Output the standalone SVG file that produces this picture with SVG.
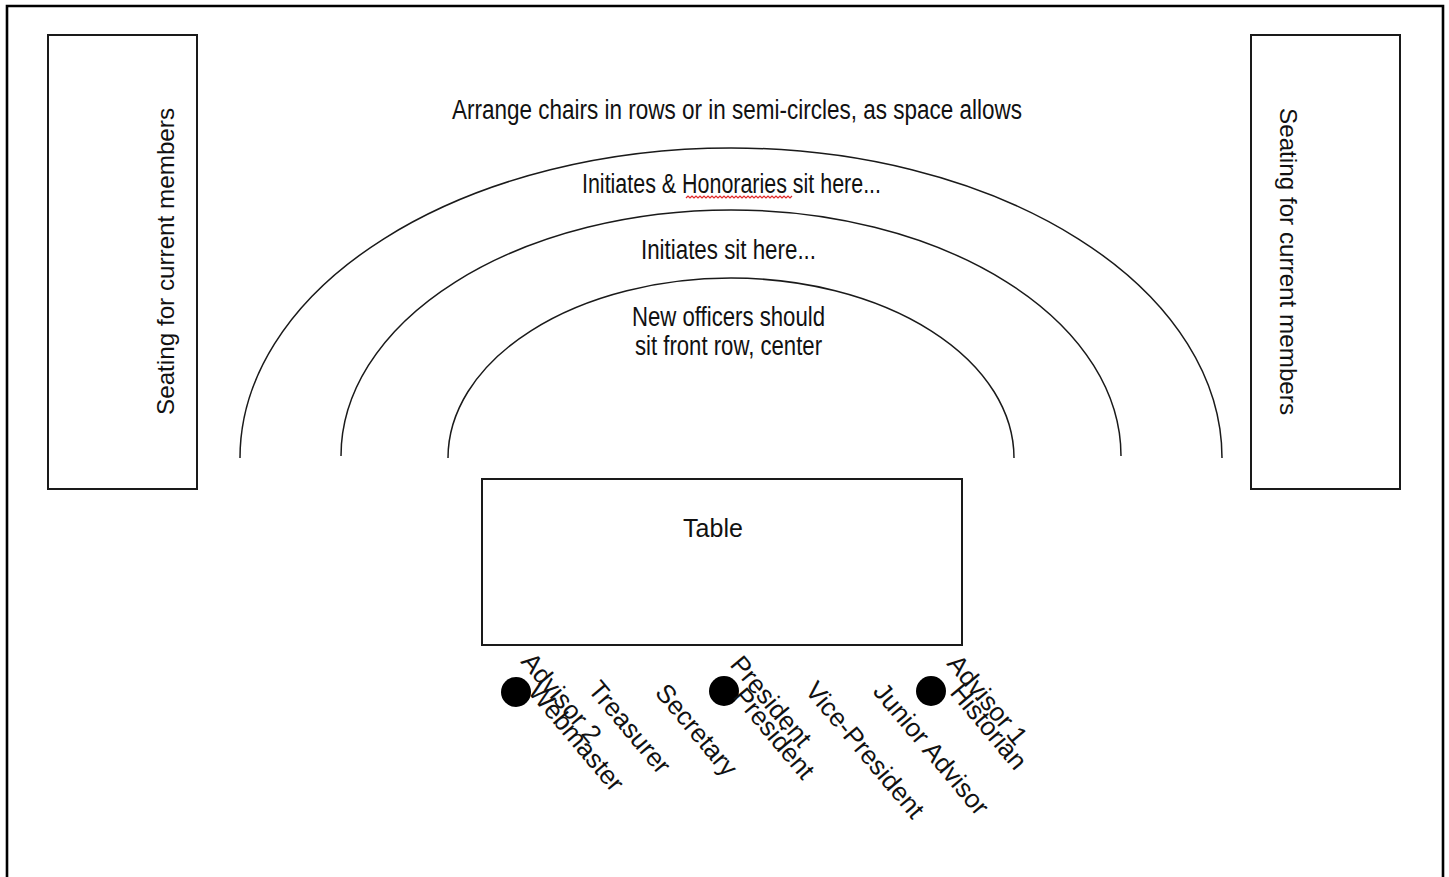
<svg xmlns="http://www.w3.org/2000/svg" width="1449" height="877" viewBox="0 0 1449 877">
  <style>
    .box { fill: #ffffff; stroke: #1a1a1a; stroke-width: 2; }
    .arc { fill: none; stroke: #1a1a1a; stroke-width: 1.5; }
    .narrow { font-family: "Liberation Sans Narrow", "Liberation Sans", Arial, sans-serif; font-size: 27px; fill: #111; }
    .reg { font-family: "Liberation Sans", Arial, sans-serif; fill: #111; }
    .lbl { font-family: "Liberation Sans", Arial, sans-serif; font-size: 26px; fill: #111; }
    .chair { fill: #000; }
  </style>
  <rect width="1449" height="877" fill="#ffffff"/>
  <path d="M7 877 V6 H1443 V877" fill="none" stroke="#000" stroke-width="2.6"/>

  <g id="seating-left">
    <rect class="box" x="48" y="35" width="149" height="454"/>
    <text class="reg" font-size="24" text-anchor="middle" transform="translate(174,261.5) rotate(-90)" textLength="307" lengthAdjust="spacingAndGlyphs">Seating for current members</text>
  </g>
  <g id="seating-right">
    <rect class="box" x="1251" y="35" width="149" height="454"/>
    <text class="reg" font-size="24" text-anchor="middle" transform="translate(1280,261.5) rotate(90)" textLength="307" lengthAdjust="spacingAndGlyphs">Seating for current members</text>
  </g>

  <g id="rows">
    <text class="narrow" x="452" y="119" font-size="28" textLength="570" lengthAdjust="spacingAndGlyphs">Arrange chairs in rows or in semi-circles, as space allows</text>
    <path class="arc" d="M240 458 A491 310 0 0 1 1222 458"/>
    <text class="narrow" x="582" y="193" textLength="299" lengthAdjust="spacingAndGlyphs">Initiates &amp; Honoraries sit here...</text>
    <path d="M686 198 l2 -2 l2 2 l2 -2 l2 2 l2 -2 l2 2 l2 -2 l2 2 l2 -2 l2 2 l2 -2 l2 2 l2 -2 l2 2 l2 -2 l2 2 l2 -2 l2 2 l2 -2 l2 2 l2 -2 l2 2 l2 -2 l2 2 l2 -2 l2 2 l2 -2 l2 2 l2 -2 l2 2 l2 -2 l2 2 l2 -2 l2 2 l2 -2 l2 2 l2 -2 l2 2 l2 -2 l2 2 l2 -2 l2 2 l2 -2 l2 2 l2 -2 l2 2 l2 -2 l2 2 l2 -2 l2 2 l2 -2 l2 2 l2 -2" fill="none" stroke="#e02828" stroke-width="1.2"/>
    <path class="arc" d="M341 456 A390 246 0 0 1 1121 456"/>
    <text class="narrow" x="641" y="259" textLength="175" lengthAdjust="spacingAndGlyphs">Initiates sit here...</text>
    <path class="arc" d="M448 458 A283 180 0 0 1 1014 458"/>
    <text class="narrow" x="632" y="326" textLength="193" lengthAdjust="spacingAndGlyphs">New officers should</text>
    <text class="narrow" x="635" y="355" textLength="187" lengthAdjust="spacingAndGlyphs">sit front row, center</text>
  </g>

  <g id="table">
    <rect class="box" x="482" y="479" width="480" height="166"/>
    <text class="reg" font-size="25" x="713" y="537" text-anchor="middle">Table</text>
  </g>

  <g id="chairs">
    <circle class="chair" cx="516" cy="692" r="15"/>
    <circle class="chair" cx="724" cy="691" r="15"/>
    <circle class="chair" cx="931" cy="691" r="15"/>
  </g>

  <g id="officer-labels">
    <text class="lbl" transform="translate(520,662) rotate(50)">Advisor 2</text>
    <text class="lbl" transform="translate(527,692) rotate(50)">Webmaster</text>
    <text class="lbl" transform="translate(587,690) rotate(50)">Treasurer</text>
    <text class="lbl" transform="translate(654,693) rotate(50)">Secretary</text>
    <text class="lbl" transform="translate(729,665) rotate(50)">President</text>
    <text class="lbl" transform="translate(732,697) rotate(50)">President</text>
    <text class="lbl" transform="translate(804,691) rotate(50)">Vice-President</text>
    <text class="lbl" transform="translate(872,692) rotate(50)">Junior Advisor</text>
    <text class="lbl" transform="translate(946,664) rotate(50)">Advisor 1</text>
    <text class="lbl" transform="translate(949,693) rotate(50)">Historian</text>
  </g>
</svg>
